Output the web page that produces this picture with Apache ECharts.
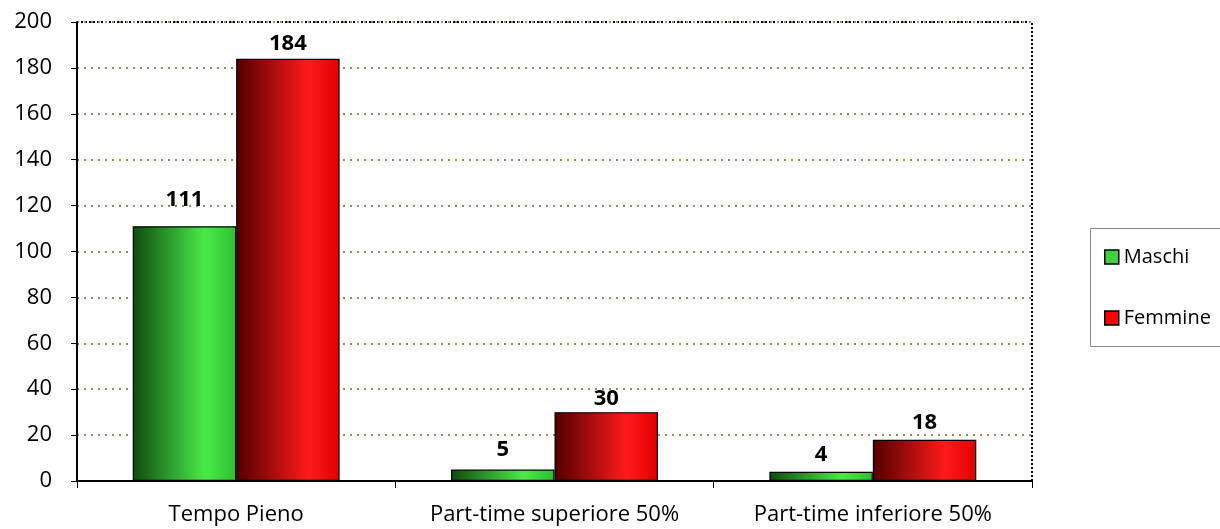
<!DOCTYPE html>
<html><head><meta charset="utf-8">
<script src="https://cdn.jsdelivr.net/npm/echarts@6/dist/echarts.min.js"></script>
<style>html,body{margin:0;padding:0;background:#fff}#c{width:1220px;height:529px}</style>
</head><body><div id="c"></div>
<script>
const categories = ['Tempo Pieno', 'Part-time superiore 50%', 'Part-time inferiore 50%'];
const maschi = [111, 5, 4];
const femmine = [184, 30, 18];
const seriesNames = ['Maschi', 'Femmine'];

// label placement (styling only)
const maschiLabelGap = [16, 9, 6];
const femmineLabelGap = [4, 2, 6];

const FONT = '"Open Sans", "Liberation Sans", sans-serif';
function grad(dark, bright, mid) {
  return new echarts.graphic.LinearGradient(0, 0, 1, 0, [
    {offset: 0, color: dark},
    {offset: 0.7, color: bright},
    {offset: 1, color: mid}
  ]);
}
function withGaps(values, gaps) {
  return values.map((v, i) => ({value: v, label: {distance: gaps[i]}}));
}
const chart = echarts.init(document.getElementById('c'), null, {renderer: 'canvas'});
const labelStyle = {show: true, position: 'top', distance: 5, fontFamily: FONT, fontSize: 22, fontWeight: 'bold', color: '#000'};
chart.setOption({
  animation: false,
  grid: {left: 77, right: 188, top: 22, bottom: 48, show: true, borderColor: '#000', borderWidth: 2, borderType: 'dotted', backgroundColor: 'transparent'},
  legend: {
    orient: 'vertical', left: 1099, top: 242, itemWidth: 14, itemHeight: 14, itemGap: 41,
    icon: 'rect',
    textStyle: {fontFamily: FONT, fontSize: 20, color: '#000'},
    data: [
      {name: seriesNames[0], itemStyle: {color: '#3fd03f', borderColor: '#000', borderWidth: 1.5}},
      {name: seriesNames[1], itemStyle: {color: '#ff0000', borderColor: '#000', borderWidth: 1.5}}
    ]
  },
  graphic: [{type: 'rect', left: 1088, top: 226, shape: {width: 140, height: 118}, style: {fill: 'none', stroke: '#888', lineWidth: 1}, z: -1}],
  xAxis: {
    type: 'category', data: categories,
    axisLine: {lineStyle: {color: '#000', width: 2}},
    axisTick: {show: true, length: 7, lineStyle: {color: '#000'}},
    axisLabel: {fontFamily: FONT, fontSize: 22, color: '#000', margin: 23, interval: 0, hideOverlap: false}
  },
  yAxis: {
    type: 'value', min: 0, max: 200, interval: 20,
    axisLine: {show: true, lineStyle: {color: '#000', width: 2}},
    axisTick: {show: true, length: 6, lineStyle: {color: '#000'}},
    axisLabel: {fontFamily: FONT, fontSize: 22, color: '#000', margin: 25},
    splitLine: {show: true, lineStyle: {color: '#9a8a50', type: [2, 5], width: 2}}
  },
  series: [
    {name: seriesNames[0], type: 'bar', data: withGaps(maschi, maschiLabelGap), barGap: '0%', barCategoryGap: '35%',
      itemStyle: {color: grad('#0f4a0f', '#4aea4a', '#2fbf2f'), borderColor: '#000', borderWidth: 1.2},
      label: labelStyle},
    {name: seriesNames[1], type: 'bar', data: withGaps(femmine, femmineLabelGap),
      itemStyle: {color: grad('#500000', '#ff1a1a', '#e00000'), borderColor: '#000', borderWidth: 1.2},
      label: labelStyle}
  ]
});
</script></body></html>
